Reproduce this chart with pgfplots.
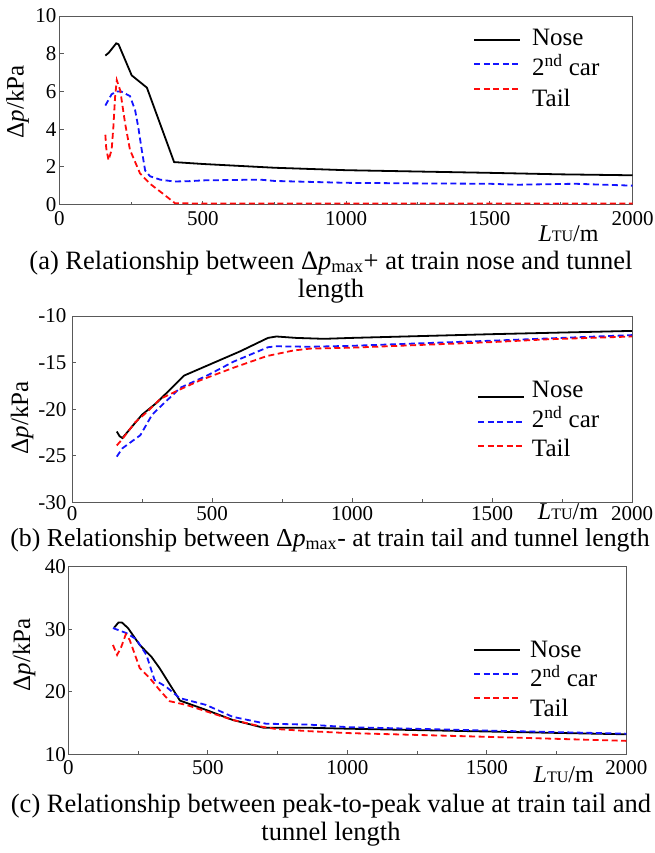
\documentclass[border=0pt]{standalone}
\usepackage{fontspec}
\setmainfont{Liberation Serif}
\usepackage{pgfplots}
\pgfplotsset{compat=1.18}
\definecolor{axgray}{gray}{0.35}
\definecolor{pblue}{RGB}{20,20,255}
\definecolor{pred}{RGB}{255,10,10}
\pgfplotsset{
  legoff/.style={legend image code/.code={\draw[##1] (0bp,#1) -- (46bp,#1);}},
  nose/.style={black, line width=1.8bp},
  car/.style={pblue, line width=1.8bp, dash pattern=on 6bp off 3.5bp},
  tail/.style={pred, line width=1.8bp, dash pattern=on 6bp off 3.5bp},
  myaxis/.style={
    scale only axis, anchor=south west,
    xmin=0, xmax=2000,
    xtick={0,500,1000,1500,2000},
    xticklabels={0,500,1000,1500,2000},
    minor xtick={250,750,1250,1750},
    tick align=inside,
    xtick pos=left, ytick pos=left,
    major tick length=4bp, minor tick length=3bp,
    every tick/.style={axgray, line width=0.8bp},
    axis line style={axgray, line width=1bp},
    ticklabel style={font=\fontsize{21bp}{24bp}\selectfont},
    legend cell align=left,
    legend style={draw=none, fill=none, inner sep=0pt, anchor=north west,
      nodes={inner sep=0pt, text height=19bp, text depth=6bp},
      font=\fontsize{25bp}{28bp}\selectfont},
  },
}
\newcommand{\LTU}{{\fontsize{24bp}{26bp}\selectfont\textit{L}{\fontsize{16bp}{18bp}\selectfont TU}/m}}
\newcommand{\ylab}{{\fontsize{25bp}{28bp}\selectfont Δ\textit{p}/kPa}}
\newcommand{\capfont}{\fontsize{26.5bp}{30bp}\selectfont}
\begin{document}
\begin{tikzpicture}
\path[use as bounding box] (0bp,0bp) rectangle (655bp,-853bp);
% ---------------- (a)
\begin{axis}[myaxis, at={(59.5bp,-204.5bp)}, width=573bp, height=188.5bp,
  ymin=0, ymax=10, ytick={0,2,4,6,8,10}, yticklabels={0,2,4,6,8,10},
  yticklabel style={xshift=0.5bp},
  xticklabel style={yshift=-3.5bp},
  legend style={at={(0.7222,0.947)}, row sep=5.8bp, column sep=10.8bp}]
\addplot[nose, legoff=-1.5bp] coordinates {(160,7.9) (172,8.05) (198,8.55) (206,8.5) (252,6.85) (305,6.2) (400,2.25) (500,2.15) (750,1.95) (1000,1.82) (1250,1.75) (1500,1.68) (1750,1.6) (2000,1.55)};
\addlegendentry{Nose}
\addplot[car, legoff=5.5bp] coordinates {(160,5.25) (182,5.85) (200,6.0) (215,6.0) (246,5.75) (264,5.0) (275,4.1) (287,2.9) (299,1.8) (316,1.5) (351,1.32) (400,1.22) (456,1.24) (500,1.28) (700,1.32) (750,1.25) (1000,1.15) (1250,1.12) (1500,1.1) (1600,1.05) (1800,1.1) (2000,1.0)};
\addlegendentry{2\textsuperscript{nd} car}
\addplot[tail, legoff=11.2bp] coordinates {(160,3.7) (163,3.0) (171,2.35) (182,2.9) (188,4.1) (194,5.7) (200,6.6) (212,6.05) (229,4.3) (246,2.9) (281,1.65) (316,1.1) (363,0.55) (403,0.07) (500,0.05) (1000,0.05) (1500,0.05) (2000,0.05)};
\addlegendentry{Tail}
\end{axis}
\node[anchor=base west, inner sep=0pt] at (538.3bp,-241bp) {\LTU};
\node[rotate=90, inner sep=0pt] at (17.5bp,-102bp) {\ylab};
\node[anchor=base, inner sep=0pt, font=\capfont] at (331bp,-269bp) {(a) Relationship between Δ\textit{p}\textsubscript{max}+ at train nose and tunnel};
\node[anchor=base, inner sep=0pt, font=\capfont] at (331bp,-297bp) {length};
% ---------------- (b)
\begin{axis}[myaxis, at={(72bp,-502.3bp)}, width=560bp, height=186.3bp,
  ymin=-30, ymax=-10, ytick={-30,-25,-20,-15,-10}, yticklabels={-30,-25,-20,-15,-10},
  yticklabel style={xshift=-2bp},
  xticklabel style={yshift=-0.5bp},
  legend style={at={(0.7232,0.6656)}, row sep=4.7bp, column sep=7bp}]
\addplot[nose, legoff=-6bp] coordinates {(160,-22.4) (170,-22.9) (180,-23.1) (250,-20.6) (303,-19.3) (400,-16.4) (500,-15.1) (600,-13.8) (700,-12.35) (730,-12.2) (800,-12.35) (900,-12.45) (1000,-12.35) (1500,-11.95) (2000,-11.6)};
\addlegendentry{Nose}
\addplot[car, legoff=-1.5bp] coordinates {(160,-25.1) (180,-24.2) (244,-22.8) (286,-20.6) (315,-19.75) (387,-17.7) (482,-16.4) (577,-14.9) (700,-13.35) (730,-13.25) (850,-13.3) (1000,-13.2) (1500,-12.65) (2000,-12.05)};
\addlegendentry{2\textsuperscript{nd} car}
\addplot[tail, legoff=4.2bp] coordinates {(160,-23.9) (180,-23.2) (226,-21.4) (268,-20.3) (315,-18.9) (381,-17.95) (458,-16.9) (577,-15.55) (696,-14.3) (791,-13.7) (851,-13.5) (1000,-13.4) (1500,-12.8) (1700,-12.5) (2000,-12.2)};
\addlegendentry{Tail}
\end{axis}
\node[anchor=base west, inner sep=0pt] at (537.7bp,-519bp) {\LTU};
\node[rotate=90, inner sep=0pt] at (22bp,-418bp) {\ylab};
\node[anchor=base, inner sep=0pt, font=\fontsize{25.8bp}{30bp}\selectfont] at (330bp,-546bp) {(b) Relationship between Δ\textit{p}\textsubscript{max}- at train tail and tunnel length};
% ---------------- (c)
\begin{axis}[myaxis, at={(68.3bp,-754.3bp)}, width=558bp, height=187.5bp,
  ymin=10, ymax=40, ytick={10,20,30,40}, yticklabels={10,20,30,40},
  yticklabel style={xshift=1bp},
  xticklabel style={yshift=-3bp},
  legend style={at={(0.7253,0.6187)}, row sep=4.35bp, column sep=9bp}]
\addplot[nose, legoff=0.8bp] coordinates {(165,30.3) (180,31.1) (192,31.1) (214,30.2) (256,27.5) (298,25.6) (327,23.8) (400,18.6) (494,17.1) (589,15.5) (700,14.25) (863,14.25) (1000,14.1) (1500,13.65) (2000,13.2)};
\addlegendentry{Nose}
\addplot[car, legoff=6.2bp] coordinates {(160,30.2) (208,29.4) (244,28.4) (280,25.9) (309,21.9) (351,20.8) (399,19.0) (494,17.9) (589,16.0) (708,14.9) (863,14.75) (1000,14.35) (1500,13.8) (2000,13.3)};
\addlegendentry{2\textsuperscript{nd} car}
\addplot[tail, legoff=11.6bp] coordinates {(160,27.5) (175,25.9) (190,27.2) (206,29.2) (220,28.3) (256,23.8) (292,22.2) (327,20.3) (363,18.5) (423,17.9) (506,16.7) (589,15.5) (696,14.4) (744,14.05) (863,13.7) (1000,13.4) (1500,12.8) (2000,12.15)};
\addlegendentry{Tail}
\end{axis}
\node[anchor=base west, inner sep=0pt] at (533.5bp,-782.7bp) {\LTU};
\node[rotate=90, inner sep=0pt] at (24bp,-655bp) {\ylab};
\node[anchor=base, inner sep=0pt, font=\capfont] at (331bp,-812bp) {(c) Relationship between peak-to-peak value at train tail and};
\node[anchor=base, inner sep=0pt, font=\capfont] at (331bp,-840bp) {tunnel length};
\end{tikzpicture}
\end{document}
